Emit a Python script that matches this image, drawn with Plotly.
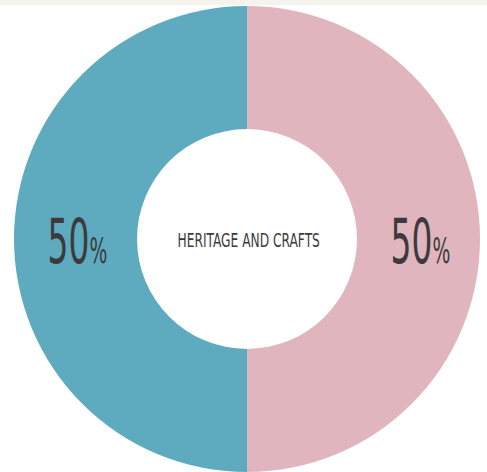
import plotly.graph_objects as go

labels = ["Share B", "Share A"]
values = [50, 50]
colors = ["#e0b5bd", "#5eabbf"]
center_label = "HERITAGE AND CRAFTS"
pct_labels = ["50", "50"]

W, H = 487, 472
fig = go.Figure()
fig.add_trace(go.Pie(
    labels=labels, values=values, hole=0.472, sort=False, direction="clockwise",
    rotation=0, marker=dict(colors=colors, line=dict(width=0)),
    textinfo="none", hoverinfo="label+percent", showlegend=False,
    domain=dict(x=[14/W, 480/W], y=[0, 1-6/H]),
))

font = "DejaVu Sans Condensed, DejaVu Sans, sans-serif"
cond = "font-stretch:condensed"
for xc, t in [(420, pct_labels[0]), (77, pct_labels[1])]:
    fig.add_annotation(x=xc/W, y=1-241/H, xref="paper", yref="paper", showarrow=False,
                       xanchor="center", yanchor="middle",
                       text=f"<span style='{cond}'>{t}</span><span style='{cond};font-size:36px'>%</span>",
                       font=dict(family=font, size=63, color="#3b3b3b"))
fig.add_annotation(x=248/W, y=1-240/H, xref="paper", yref="paper", showarrow=False,
                   xanchor="center", yanchor="middle",
                   text=f"<span style='{cond}'>{center_label}</span>",
                   font=dict(family=font, size=20, color="#3b3b3b"))

fig.add_shape(type="rect", xref="paper", yref="paper", x0=0, x1=1, y0=1-5/H, y1=1,
              fillcolor="#f4f3ee", line=dict(width=0), layer="below")

fig.update_layout(width=W, height=H, margin=dict(l=0, r=0, t=0, b=0),
                  paper_bgcolor="white", plot_bgcolor="white")

post = """
document.body.style.margin='0';
document.querySelectorAll('.annotation-text').forEach(function(el){
  var s = el.textContent.indexOf('%') >= 0 ? 0.58 : 0.68;
  el.style.transformBox = 'fill-box';
  el.style.transformOrigin = 'center';
  el.style.transform = 'scaleX(' + s + ')';
});
"""
fig.write_html("out.html", config={"displayModeBar": False}, post_script=post)
